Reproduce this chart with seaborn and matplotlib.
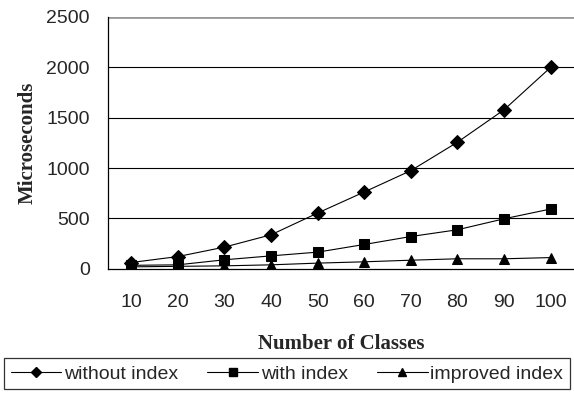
import matplotlib
matplotlib.use("Agg")
import matplotlib.pyplot as plt
import numpy as np
import pandas as pd
import seaborn as sns

classes = [10, 20, 30, 40, 50, 60, 70, 80, 90, 100]
without_index = [63, 122, 216, 338, 554, 763, 975, 1257, 1579, 2000]
with_index = [35, 40, 90, 129, 166, 242, 321, 388, 497, 594]
improved_index = [20, 25, 30, 40, 57, 70, 86, 100, 100, 112]

df = pd.DataFrame({
    "classes": classes * 3,
    "us": without_index + with_index + improved_index,
    "series": ["without index"] * 10 + ["with index"] * 10 + ["improved index"] * 10,
})

sns.set_style("white")
plt.rcParams["font.family"] = ["Liberation Sans", "DejaVu Sans"]

fig = plt.figure(figsize=(5.74, 4.13), dpi=100)
ax = fig.add_axes([0.188, 0.349, 0.812, 0.61])

sns.lineplot(data=df, x="classes", y="us", hue="series", style="series",
             markers={"without index": "D", "with index": "s", "improved index": "^"},
             dashes=False, palette=["black"] * 3, linewidth=0.8,
             markersize=7, markeredgecolor="black", ax=ax, legend=False)

ax.set_xlim(5, 105)
ax.set_ylim(0, 2500)
ax.set_yticks([0, 500, 1000, 1500, 2000, 2500])
ax.set_xticks(classes)
ax.set_xticks(np.arange(5, 106, 10), minor=True)
ax.tick_params(axis="x", which="major", length=0, pad=18, labelsize=14)
ax.tick_params(axis="x", which="minor", length=6, width=0.9, color="black", direction="out")
ax.tick_params(axis="y", length=4, width=0.8, color="black", direction="out", pad=9, labelsize=14)
ax.grid(False)
for v in [500, 1000, 1500, 2000]:
    ax.axhline(v, color="black", linewidth=0.8, zorder=0)
ax.axhline(2500, color="#999999", linewidth=2, zorder=0)

for s in ["top", "right"]:
    ax.spines[s].set_visible(False)
ax.spines["left"].set_color("black")
ax.spines["bottom"].set_color("black")
ax.spines["left"].set_linewidth(0.9)
ax.spines["bottom"].set_linewidth(0.9)

ax.set_xlabel("Number of Classes", family="Liberation Serif", fontweight="bold",
              fontsize=15, labelpad=17)
ax.set_ylabel("Microseconds", family="Liberation Serif", fontweight="bold",
              fontsize=15, labelpad=6)

handles = [
    plt.Line2D([], [], color="black", lw=0.8, marker="D", markersize=5),
    plt.Line2D([], [], color="black", lw=0.8, marker="s", markersize=6),
    plt.Line2D([], [], color="black", lw=0.8, marker="^", markersize=6),
]
leg = fig.legend(handles, ["without index", "with index", "improved index"],
                 loc="center", bbox_to_anchor=(0.5, 0.095), ncol=3, fontsize=14,
                 frameon=True, fancybox=False, handlelength=2.6, handletextpad=0.15,
                 columnspacing=1.5, borderpad=0.35, borderaxespad=0)
leg.get_frame().set_edgecolor("black")
leg.get_frame().set_linewidth(0.9)

fig.savefig("out.png", dpi=100)
